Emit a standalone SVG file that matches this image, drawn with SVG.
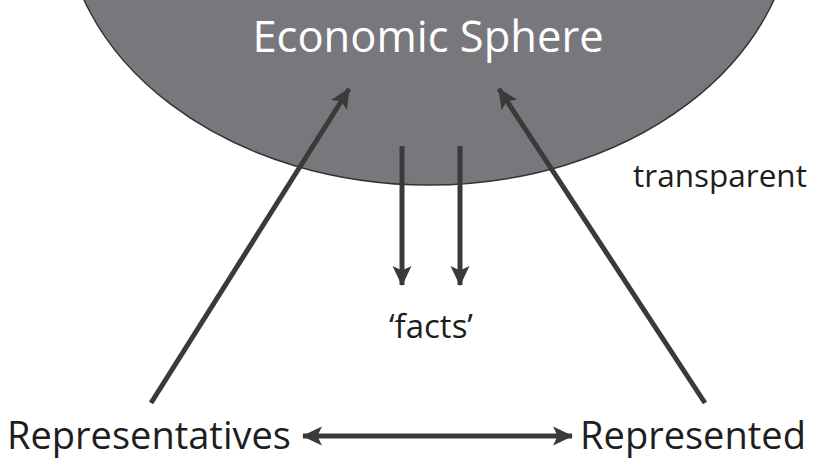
<svg xmlns="http://www.w3.org/2000/svg" width="813" height="459" viewBox="0 0 813 459">
<defs>
<style>
.lbl{font-family:"Open Sans","Noto Sans","Liberation Sans",sans-serif;fill:#1e1e1e}
.conn{stroke:#3a3a3a;stroke-width:5;fill:none}
</style>
<marker id="ah" markerUnits="userSpaceOnUse" markerWidth="20" markerHeight="20" viewBox="0 0 18 18" refX="17" refY="9" orient="auto-start-reverse">
<path d="M0,0.5 L18,9 L0,17.5 L4,9 Z" fill="#3a3a3a"/>
</marker>
</defs>
<rect width="813" height="459" fill="#ffffff"/>
<g id="economic-sphere">
<ellipse cx="429" cy="-90" rx="365" ry="275" fill="#78787c" stroke="#333336" stroke-width="1.5"/>
<text x="428" y="52" text-anchor="middle" class="lbl" style="fill:#ffffff" font-size="43.5">Economic Sphere</text>
</g>
<g id="transparent"><text x="720" y="187" text-anchor="middle" class="lbl" font-size="31.5">transparent</text></g>
<g id="facts"><text x="431" y="338" text-anchor="middle" class="lbl" font-size="33">‘facts’</text></g>
<g id="representatives"><text x="149" y="449" text-anchor="middle" class="lbl" font-size="38">Representatives</text></g>
<g id="represented"><text x="693" y="449" text-anchor="middle" class="lbl" font-size="38">Represented</text></g>
<g id="connectors">
<line class="conn" x1="151" y1="403" x2="349" y2="89" marker-end="url(#ah)"/>
<line class="conn" x1="705" y1="403" x2="499" y2="89" marker-end="url(#ah)"/>
<line class="conn" x1="402" y1="146" x2="402" y2="285" marker-end="url(#ah)"/>
<line class="conn" x1="460" y1="146" x2="460" y2="285" marker-end="url(#ah)"/>
<line class="conn" x1="303" y1="436" x2="572" y2="436" marker-start="url(#ah)" marker-end="url(#ah)"/>
</g>
</svg>
